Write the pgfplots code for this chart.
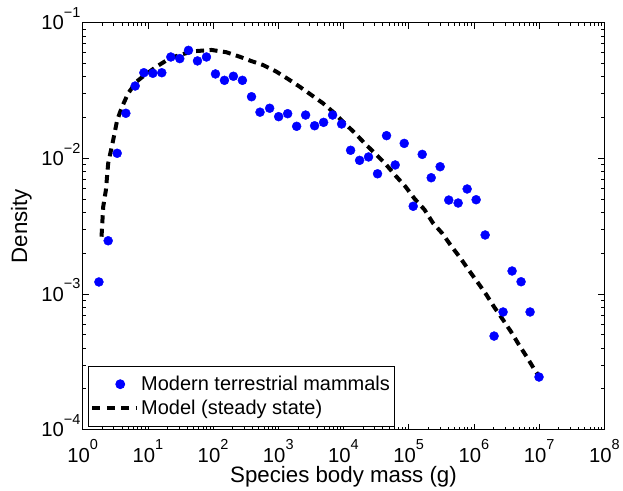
\documentclass[border=0pt]{standalone}
\usepackage{fontspec}
\setmainfont{Liberation Sans}
\usepackage{pgfplots}
\pgfplotsset{compat=1.18}
\newcommand{\tl}[1]{10\raisebox{12.5pt}{\fontsize{14.5}{15}\selectfont #1}}
\pgfplotsset{
  legmark/.style={legend image code/.code={\draw[##1] plot coordinates {(28pt,0pt)};}},
  legline/.style={legend image code/.code={\draw[##1, dash pattern=on 8pt off 6.5pt] (0pt,0pt) -- (45pt,0pt);}},
}
\begin{document}
\begin{tikzpicture}
\begin{axis}[
  scale only axis,
  width=522.3pt, height=407.3pt,
  xmode=log, ymode=log,
  xmin=1, xmax=1e8, ymin=1e-4, ymax=1e-1,
  xtick={1,10,100,1000,10000,100000,1000000,10000000,100000000},
  xticklabels={\tl{0},\tl{1},\tl{2},\tl{3},\tl{4},\tl{5},\tl{6},\tl{7},\tl{8}},
  ytick={1e-4,1e-3,1e-2,1e-1},
  yticklabels={\tl{−4},\tl{−3},\tl{−2},\tl{−1}},
  tick label style={font=\fontsize{20.3}{24}\selectfont},
  yticklabel style={inner xsep=2pt, yshift=4pt},
  xticklabel style={inner ysep=0pt, yshift=-10pt},
  axis line style={line width=0.8pt},
  tick style={line width=0.6pt, black},
  major tick length=6pt, minor tick length=3pt,
  tick align=inside,
  xlabel={Species body mass (g)},
  ylabel={Density},
  ylabel shift=4pt,
  label style={font=\fontsize{22.3}{26}\selectfont},
  legend style={at={(0.0101,0.0074)}, anchor=south west, draw=black, line width=0.8pt,
    font=\fontsize{20}{24}\selectfont, legend cell align=left, inner xsep=2pt, inner ysep=8pt,
    row sep=4pt},
]
\addplot[only marks, mark=*, mark size=4.5pt, color=blue, fill=blue, legmark]
coordinates {
(1.778,1.225e-3) (2.466,2.466e-3) (3.388,1.089e-2) (4.603,2.148e-2) (6.397,3.412e-2)
(8.690,4.276e-2) (11.94,4.236e-2) (16.37,4.276e-2) (22.49,5.585e-2) (30.90,5.433e-2)
(41.98,6.252e-2) (57.68,5.224e-2) (79.25,5.585e-2) (108.9,4.188e-2) (149.6,3.758e-2)
(205.1,4.027e-2) (281.8,3.758e-2) (389.0,2.844e-2) (524.8,2.188e-2) (738.0,2.339e-2)
(1014,2.028e-2) (1393,2.133e-2) (1914,1.722e-2) (2624,2.084e-2) (3606,1.738e-2)
(4955,1.841e-2) (6808,2.084e-2) (9354,1.791e-2) (12853,1.146e-2) (17660,9.66e-3)
(24210,1.023e-2) (33266,7.69e-3) (45709,1.469e-2) (62087,8.93e-3) (85310,1.288e-2)
(117220,4.43e-3) (161060,1.069e-2) (221310,7.19e-3) (303390,8.67e-3) (411150,4.92e-3)
(572800,4.68e-3) (787000,5.94e-3) (1081000,4.95e-3) (1486000,2.72e-3) (2037000,4.89e-4)
(2799000,7.36e-4) (3846000,1.476e-3) (5284000,1.230e-3) (7261000,7.36e-4) (9954000,2.44e-4)
};
\addlegendentry{Modern terrestrial mammals}
\addplot[black, line width=4pt, dash pattern=on 8pt off 5.5pt, legline]
coordinates {
(1.950,2.642e-3) (2.070,4.40e-3) (2.275,5.83e-3) (2.466,9.18e-3) (2.944,1.365e-2)
(3.388,1.914e-2) (4.036,2.404e-2) (4.989,3.013e-2) (6.699,3.673e-2) (8.995,4.111e-2)
(13.58,4.742e-2) (21.73,5.458e-2) (30.90,5.781e-2) (49.43,6.152e-2) (94.41,6.295e-2)
(160.3,6.053e-2) (256.4,5.610e-2) (380.2,5.224e-2) (583.4,4.875e-2) (933.3,4.355e-2)
(1409,3.846e-2) (2128,3.373e-2) (3214,2.931e-2) (4842,2.547e-2) (7311,2.148e-2)
(10400,1.811e-2) (14791,1.545e-2) (21038,1.291e-2) (31046,1.076e-2) (44157,9.08e-3)
(62806,7.45e-3) (89331,6.18e-3) (122740,5.04e-3) (174580,4.18e-3) (233890,3.35e-3)
(325840,2.80e-3) (447710,2.26e-3) (615180,1.85e-3) (831760,1.50e-3) (1142800,1.216e-3)
(1538200,9.93e-4) (2060500,7.96e-4) (2760600,6.50e-4) (3706800,5.26e-4) (4852600,4.25e-4)
(6441700,3.44e-4) (8433500,2.78e-4) (10069000,2.45e-4)
};
\addlegendentry{Model (steady state)}
\end{axis}
\path ([shift={(-82.7pt,-59pt)}]current axis.south west) rectangle ([shift={(18pt,22.7pt)}]current axis.north east);
\end{tikzpicture}
\end{document}
